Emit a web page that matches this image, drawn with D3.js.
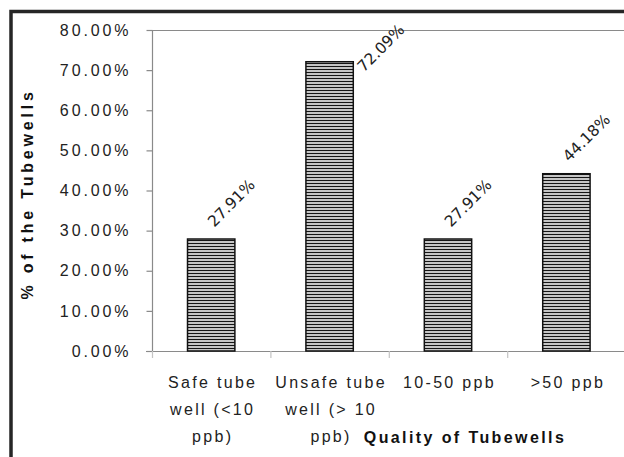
<!DOCTYPE html>
<html>
<head>
<meta charset="utf-8">
<script src="https://cdn.jsdelivr.net/npm/d3@7"></script>
<style>
  html, body { margin: 0; padding: 0; background: #fff; }
  svg { display: block; }
</style>
</head>
<body>
<svg id="chart" width="624" height="457"></svg>
<script>
// ---- data ----
const categories = ["Safe tube well (<10 ppb)", "Unsafe tube well (> 10 ppb)", "10-50 ppb", ">50 ppb"];
const categoryLines = [["Safe tube", "well (<10", "ppb)"], ["Unsafe tube", "well (> 10", "ppb)"], ["10-50 ppb"], [">50 ppb"]];
const values = [0.2791, 0.7209, 0.2791, 0.4418];
const valueLabels = ["27.91%", "72.09%", "27.91%", "44.18%"];
const yTicks = [0, 0.1, 0.2, 0.3, 0.4, 0.5, 0.6, 0.7, 0.8];
const yTitle = "% of the Tubewells";
const xTitle = "Quality of Tubewells";

// ---- layout ----
const W = 624, H = 457;
const plot = { left: 152, top: 30, right: 625.6, bottom: 351 };
const svg = d3.select("#chart");
const FONT = "'Liberation Sans', Arial, sans-serif";

// hatch pattern
const defs = svg.append("defs");
const pat = defs.append("pattern").attr("id", "hatch").attr("patternUnits", "userSpaceOnUse")
  .attr("width", 8).attr("height", 3);
pat.append("rect").attr("width", 8).attr("height", 3).attr("fill", "#e2e2e2");
pat.append("rect").attr("y", 0).attr("width", 8).attr("height", 1).attr("fill", "#151515");
pat.append("rect").attr("y", 1.5).attr("width", 8).attr("height", 1).attr("fill", "#a8a8a8");

// outer frame
svg.append("rect").attr("x", 11).attr("y", 11.5).attr("width", W + 20).attr("height", H + 20)
  .attr("fill", "none").attr("stroke", "#262626").attr("stroke-width", 3.5);

const x = d3.scaleBand().domain(categories).range([plot.left, plot.right])
  .paddingInner(0.6).paddingOuter(0.3);
const y = d3.scaleLinear().domain([0, 0.8]).range([plot.bottom, plot.top]);

// plot area border (left + top)
svg.append("path")
  .attr("d", `M${plot.left + 0.5},${plot.bottom}V${plot.top + 0.5}H${plot.right}`)
  .attr("fill", "none").attr("stroke", "#8a8a8a").attr("stroke-width", 1.2);

// y axis
const yAxis = d3.axisLeft(y).tickValues(yTicks).tickFormat(d3.format(".2%"))
  .tickSize(6).tickPadding(15);
const gy = svg.append("g").attr("transform", `translate(${plot.left + 0.5},0)`).call(yAxis);
gy.select(".domain").remove();
gy.selectAll(".tick line").attr("stroke", "#8a8a8a").attr("stroke-width", 1.2);
gy.selectAll(".tick text").attr("font-family", FONT).attr("font-size", 16)
  .attr("letter-spacing", "2.9px").attr("fill", "#222");

// x axis baseline + ticks at band boundaries
svg.append("line").attr("x1", plot.left - 6).attr("x2", plot.right)
  .attr("y1", plot.bottom + 0.5).attr("y2", plot.bottom + 0.5)
  .attr("stroke", "#8a8a8a").attr("stroke-width", 1.2);
const boundaries = d3.range(categories.length + 1).map(i => plot.left + i * x.step());
svg.append("g").selectAll("line").data(boundaries).join("line")
  .attr("x1", d => d + 0.5).attr("x2", d => d + 0.5)
  .attr("y1", plot.bottom).attr("y2", plot.bottom + 7)
  .attr("stroke", "#c4c4c4").attr("stroke-width", 1.2);

// bars
svg.append("g").selectAll("rect").data(values).join("rect")
  .attr("x", (d, i) => x(categories[i]))
  .attr("y", d => y(d))
  .attr("width", x.bandwidth())
  .attr("height", d => y(0) - y(d))
  .attr("fill", "url(#hatch)")
  .attr("stroke", "#111").attr("stroke-width", 1.5);

// value labels, rotated
svg.append("g").selectAll("text").data(values).join("text")
  .each(function (d, i) {
    let cx = x(categories[i]) + x.bandwidth() / 2 + 20;
    let cy = y(d) - 36;
    const minY = 48;
    if (cy < minY) { cx += (minY - cy) * 1.4; cy = minY; }
    d3.select(this).attr("transform", `translate(${cx},${cy}) rotate(-45)`);
  })
  .attr("text-anchor", "middle").attr("dy", "0.35em")
  .attr("font-family", "'DejaVu Sans', Verdana, sans-serif").attr("font-size", 15.5).attr("fill", "#222")
  .text((d, i) => valueLabels[i]);

// category labels
const catG = svg.append("g");
categoryLines.forEach((lines, i) => {
  const cx = x(categories[i]) + x.bandwidth() / 2 + 1.5;
  const t = catG.append("text").attr("text-anchor", "middle")
    .attr("font-family", FONT).attr("font-size", 16).attr("letter-spacing", "2.3px")
    .attr("fill", "#222");
  lines.forEach((ln, j) => {
    t.append("tspan").attr("x", cx).attr("y", 388 + j * 27).text(ln);
  });
});

// axis titles
svg.append("text").attr("x", 465).attr("y", 443).attr("text-anchor", "middle")
  .attr("font-family", FONT).attr("font-size", 16).attr("font-weight", "bold")
  .attr("letter-spacing", "2.4px").attr("fill", "#111").text(xTitle);

svg.append("text").attr("transform", "translate(33,194) rotate(-90)").attr("text-anchor", "middle")
  .attr("font-family", FONT).attr("font-size", 16).attr("font-weight", "bold")
  .attr("letter-spacing", "3.8px").attr("fill", "#111").text(yTitle);
</script>
</body>
</html>
